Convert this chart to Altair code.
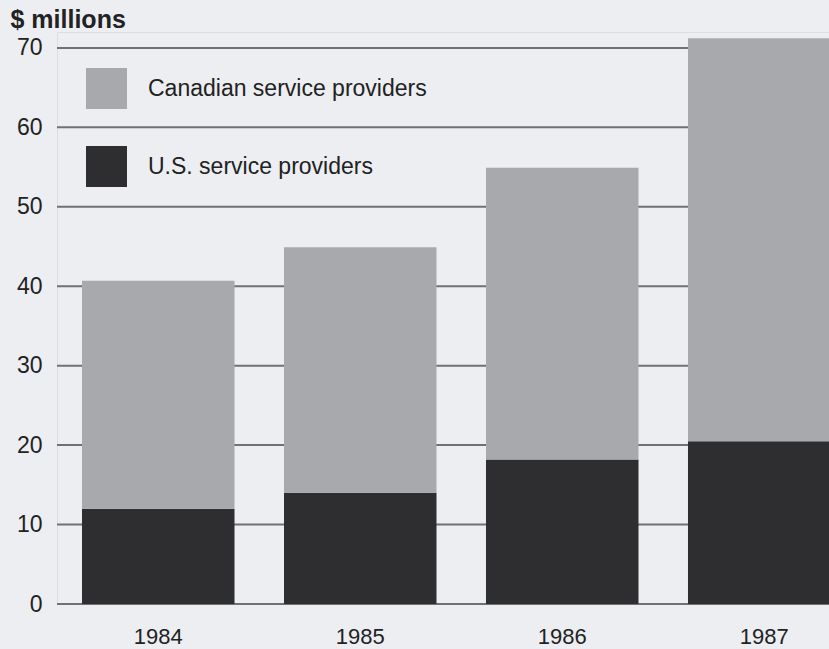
import altair as alt
import pandas as pd

years = ["1984", "1985", "1986", "1987"]
us_values = [12.0, 14.0, 18.2, 20.5]
canadian_values = [28.7, 30.9, 36.7, 50.7]
series = ["Canadian service providers", "U.S. service providers"]
series_colors = ["#a8a9ad", "#2e2e31"]
y_ticks = [0, 10, 20, 30, 40, 50, 60, 70]

rows = []
for yr, c, u in zip(years, canadian_values, us_values):
    rows.append({"year": yr, "series": series[1], "value": u, "stack_pos": 0})
    rows.append({"year": yr, "series": series[0], "value": c, "stack_pos": 1})
df = pd.DataFrame(rows)
grid_df = pd.DataFrame({"tick": y_ticks})

FONT = "Liberation Sans"
BG = "#eceef2"
W, H = 772, 572

y_scale = alt.Scale(domain=[0, 72], nice=False)
y_axis = alt.Axis(
    values=y_ticks, title="$ millions", titleAngle=0,
    titleX=-47, titleY=-5, titleAlign="left", titleBaseline="alphabetic",
    titleFontSize=25, titleFontWeight="bold", titleColor="#222222",
    titleFont=FONT,
    ticks=False, domain=False, grid=False, labelPadding=15,
    labelFontSize=23, labelColor="#222222", labelFont=FONT,
)

grid = alt.Chart(grid_df).mark_rule(color="#707075", strokeWidth=2).encode(
    y=alt.Y("tick:Q", scale=y_scale, axis=y_axis),
    x=alt.value(0),
    x2=alt.value(W),
)

bars = alt.Chart(df).mark_bar().encode(
    x=alt.X(
        "year:N",
        sort=years,
        scale=alt.Scale(range=[25, 783.5], paddingInner=0.245, paddingOuter=0),
        axis=alt.Axis(
            title=None, labelAngle=0, ticks=False, domain=False, grid=False,
            labelPadding=22, labelFontSize=22, labelColor="#222222",
            labelFont=FONT,
        ),
    ),
    y=alt.Y("value:Q", stack="zero", scale=y_scale, axis=y_axis),
    color=alt.Color(
        "series:N",
        scale=alt.Scale(domain=series, range=series_colors),
        legend=alt.Legend(
            orient="none", legendX=29, legendY=36, title=None,
            symbolType="square", symbolSize=1681, symbolStrokeWidth=0,
            symbolOpacity=1,
            labelFontSize=23, labelOffset=21, rowPadding=37, padding=0,
            labelColor="#222222", labelFont=FONT, labelLimit=400,
        ),
    ),
    order=alt.Order("stack_pos:Q"),
)

chart = alt.layer(grid, bars).properties(
    width=W,
    height=H,
    padding={"left": 57, "top": 32, "right": 0, "bottom": 45},
    autosize=alt.AutoSizeParams(type="none"),
    background=BG,
).configure_view(
    strokeWidth=0,
    strokeOpacity=0,
    stroke=BG,
    fill=BG,
).configure(
    font=FONT,
)

chart.save("out.html", embed_options={"renderer": "svg", "actions": False})
